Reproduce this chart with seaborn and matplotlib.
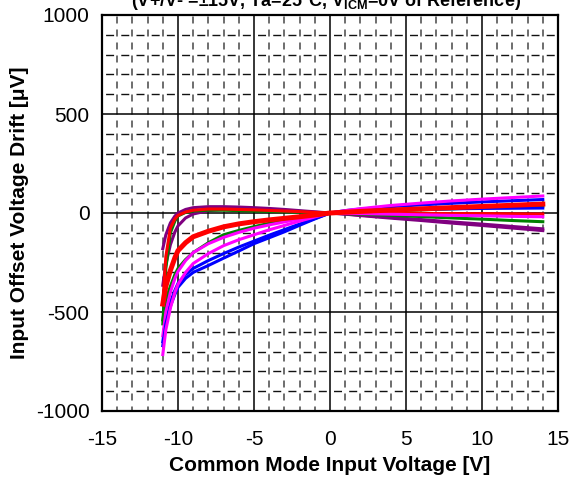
import numpy as np
import pandas as pd
import matplotlib
matplotlib.use("Agg")
import matplotlib.pyplot as plt
from matplotlib.ticker import MultipleLocator
import seaborn as sns

# Common-mode input voltage sample points [V]
vcm = [-11, -10.8, -10.5, -10.2, -10, -9.5, -9, -8, -7, -6, -5, -4, -3, -2, -1,
       0, 1, 2, 4, 6, 8, 10, 12, 14]

# Input offset voltage drift per unit [uV], referenced to Vicm = 0 V
purple_a = [-180, -110, -50, -15, 0, 18, 27, 32, 32, 30, 27, 23, 18, 12, 6,
            0, -6, -13, -26, -38, -51, -63, -76, -89]
purple_b = [-365, -260, -160, -95, -65, -25, -5, 12, 18, 18, 17, 15, 12, 8, 4,
            0, -5, -11, -22, -33, -45, -56, -68, -80]
red_a = [-455, -220, -75, -30, -12, 5, 14, 20, 20, 18, 16, 13, 10, 7, 3,
         0, -1, -1, -1, -2, -3, -3, -4, -5]
red_b = [-460, -370, -290, -225, -190, -150, -120, -92, -70, -55, -44, -35, -27, -19, -10,
         0, 4, 8, 15, 21, 27, 33, 39, 45]
green_a = [-560, -280, -100, -40, -15, 3, 10, 14, 14, 12, 10, 8, 6, 4, 2,
           0, -3, -6, -12, -18, -25, -31, -38, -44]
green_b = [-540, -440, -370, -310, -280, -235, -200, -150, -110, -88, -69, -52, -37, -24, -11,
           0, 3, 6, 11, 16, 21, 26, 30, 35]
magenta_a = [-715, -590, -480, -400, -360, -300, -255, -205, -165, -135, -110, -85, -63, -41, -20,
             0, 12, 22, 38, 50, 61, 70, 78, 86]
magenta_b = [-620, -500, -400, -330, -295, -240, -200, -155, -123, -98, -77, -60, -45, -30, -15,
             0, -2, -3, -6, -9, -12, -14, -17, -19]
blue_a = [-670, -560, -470, -410, -375, -330, -300, -265, -228, -192, -155, -125, -95, -62, -30,
          0, 12, 20, 32, 41, 49, 56, 62, 68]
blue_b = [-650, -540, -450, -390, -355, -310, -280, -240, -205, -172, -142, -112, -84, -56, -28,
          0, 8, 12, 16, 19, 21, 23, 24, 25]

series = {
    "purple_a": purple_a, "purple_b": purple_b,
    "green_a": green_a, "green_b": green_b,
    "red_a": red_a,
    "blue_b": blue_b, "magenta_b": magenta_b,
    "blue_a": blue_a, "magenta_a": magenta_a,
    "red_b": red_b,
}
palette = {
    "purple_a": "#800080", "purple_b": "#800080",
    "red_a": "#ff0000", "red_b": "#ff0000",
    "green_a": "#008000", "green_b": "#008000",
    "magenta_a": "#ff00ff", "magenta_b": "#ff00ff",
    "blue_a": "#0000ff", "blue_b": "#0000ff",
}
widths = {k: 2.2 for k in palette}
widths["red_b"] = 3.6

df = pd.concat(
    [pd.DataFrame({"vcm": vcm, "drift": v, "unit": k}) for k, v in series.items()],
    ignore_index=True,
)

plt.rcParams["font.family"] = ["Liberation Sans", "DejaVu Sans"]
plt.rcParams["axes.unicode_minus"] = False
plt.rcParams["mathtext.fontset"] = "custom"
plt.rcParams["mathtext.rm"] = "Liberation Sans"
plt.rcParams["mathtext.bf"] = "Liberation Sans:bold"

fig = plt.figure(figsize=(5.73, 4.84), dpi=100)
ax = fig.add_axes([102 / 573, 73 / 484, 456 / 573, 396 / 484])

sns.lineplot(data=df, x="vcm", y="drift", hue="unit", size="unit",
             palette=palette, sizes=widths, hue_order=list(series),
             size_order=list(series), estimator=None, sort=False,
             legend=False, ax=ax, zorder=3)

ax.set_xlim(-15, 15)
ax.set_ylim(-1000, 1000)
ax.xaxis.set_major_locator(MultipleLocator(5))
ax.yaxis.set_major_locator(MultipleLocator(500))
ax.xaxis.set_minor_locator(MultipleLocator(1))
ax.yaxis.set_minor_locator(MultipleLocator(100))

# solid major grid, dashed minor grid
ax.set_axisbelow(True)
ax.xaxis.grid(True, which="major", color="black", lw=1.1)
ax.yaxis.grid(True, which="major", color="black", lw=1.1)
ax.xaxis.grid(True, which="minor", color="#555555", lw=1.2,
              linestyle=(1.5, (4.2, 3.6)))
ax.yaxis.grid(True, which="minor", color="#111111", lw=1.0,
              linestyle=(8.35, (5.76, 5.18)))

ax.tick_params(which="both", length=0)
ax.tick_params(axis="y", pad=9, labelsize=15)
ax.tick_params(axis="x", pad=14, labelsize=15)
for s in ax.spines.values():
    s.set_color("black")
    s.set_linewidth(1.6)

ax.set_xlabel("Common Mode Input Voltage [V]", fontsize=15,
              fontweight="bold", labelpad=5)
ax.set_ylabel("Input Offset Voltage Drift [\u03bcV]", fontsize=15,
              fontweight="bold", labelpad=5)

fig.text(326 / 573, 1 - 6 / 484,
         r"(V+/V- =±15V, Ta=25°C, $\mathbf{V_{ICM}}$=0V of Reference)",
         ha="center", va="baseline", fontsize=13, fontweight="bold")

fig.savefig("out.png", dpi=100)
